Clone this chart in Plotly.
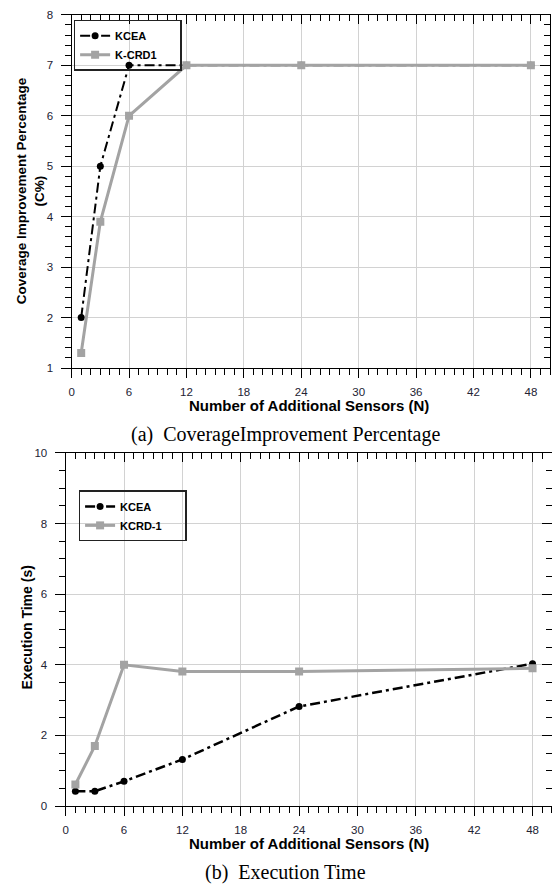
import plotly.graph_objects as go

# ---- data ----
n_sensors = [1, 3, 6, 12, 24, 48]
cov_kcea = [2.0, 5.0, 7.0, 7.0, 7.0, 7.0]
cov_kcrd1 = [1.3, 3.9, 6.0, 7.0, 7.0, 7.0]
time_kcea = [0.42, 0.42, 0.70, 1.32, 2.82, 4.03]
time_kcrd1 = [0.61, 1.70, 4.00, 3.81, 3.81, 3.90]
x_ticks = [0, 6, 12, 18, 24, 30, 36, 42, 48]

W, H = 552, 890
BLACK = "#000000"
GRAY = "#a3a3a3"
GRID = "#d2d2d2"
TICKFONT = dict(family="Liberation Sans, Arial", size=11.5, color="#222233")
DASH = "10px,4px,3px,4px"
PAD = "\u00a0" * 6

def px(xpx):
    return xpx / W

def py(ypx):
    return 1 - ypx / H

fig = go.Figure()

# top chart
fig.add_trace(go.Scatter(x=n_sensors, y=cov_kcea, name="<b>KCEA</b>" + PAD, mode="lines+markers",
                         line=dict(color=BLACK, width=2, dash=DASH),
                         marker=dict(symbol="circle", size=7, color=BLACK),
                         xaxis="x", yaxis="y", legend="legend"))
fig.add_trace(go.Scatter(x=n_sensors, y=cov_kcrd1, name="<b>K-CRD1</b>" + PAD, mode="lines+markers",
                         line=dict(color=GRAY, width=3),
                         marker=dict(symbol="square", size=8, color=GRAY),
                         xaxis="x", yaxis="y", legend="legend"))
# bottom chart
fig.add_trace(go.Scatter(x=n_sensors, y=time_kcea, name="<b>KCEA</b>" + PAD, mode="lines+markers",
                         line=dict(color=BLACK, width=2.5, dash=DASH),
                         marker=dict(symbol="circle", size=7, color=BLACK),
                         xaxis="x2", yaxis="y2", legend="legend2"))
fig.add_trace(go.Scatter(x=n_sensors, y=time_kcrd1, name="<b>KCRD-1</b>" + PAD, mode="lines+markers",
                         line=dict(color=GRAY, width=3),
                         marker=dict(symbol="square", size=8, color=GRAY),
                         xaxis="x2", yaxis="y2", legend="legend2"))
# invisible traces for mirror axes (inside ticks on top/right)
fig.add_trace(go.Scatter(x=[None], y=[None], xaxis="x3", yaxis="y3", showlegend=False))
fig.add_trace(go.Scatter(x=[None], y=[None], xaxis="x4", yaxis="y4", showlegend=False))

top_xdom = [px(69), px(550)]
top_ydom = [py(367), py(9)]
bot_xdom = [px(63), 1.0]
bot_ydom = [py(811), py(453)]

def xax(domain, anchor, side="bottom", ticks="outside", labels=True, grid=True, overlay=None):
    d = dict(domain=domain, anchor=anchor, range=[0, 50], tickmode="array", tickvals=x_ticks,
             ticks=ticks, ticklen=9, tickwidth=1.2, tickcolor=BLACK,
             minor=dict(dtick=1, tick0=0, ticks=ticks, ticklen=6, tickcolor=BLACK, tickwidth=1, showgrid=False),
             showline=True, linecolor=BLACK, linewidth=1.2, showgrid=grid, gridcolor=GRID, gridwidth=1,
             zeroline=False, showticklabels=labels, tickfont=TICKFONT, side=side, fixedrange=True)
    if labels:
        d["ticklabelstandoff"] = 4
    if overlay:
        d["overlaying"] = overlay
    return d

def yax(domain, anchor, rng, dtick, mdtick, side="left", ticks="outside", labels=True, grid=True, overlay=None):
    d = dict(domain=domain, anchor=anchor, range=rng, tick0=0, dtick=dtick,
             ticks=ticks, ticklen=10, tickwidth=1.2, tickcolor=BLACK,
             minor=dict(dtick=mdtick, tick0=0, ticks=ticks, ticklen=6, tickcolor=BLACK, tickwidth=1, showgrid=False),
             showline=True, linecolor=BLACK, linewidth=1.2, showgrid=grid, gridcolor=GRID, gridwidth=1,
             zeroline=False, showticklabels=labels, tickfont=TICKFONT, side=side, fixedrange=True)
    if labels:
        d["ticklabelstandoff"] = 5
    if overlay:
        d["overlaying"] = overlay
    return d

legend_common = dict(bgcolor="rgba(255,255,255,0)", bordercolor="#222222", borderwidth=1.5,
                     font=dict(family="Liberation Sans, Arial", size=11, color=BLACK),
                     xanchor="left", yanchor="top", tracegroupgap=0, itemwidth=30)

fig.update_layout(
    width=W, height=H, margin=dict(l=0, r=0, t=0, b=0),
    paper_bgcolor="white", plot_bgcolor="white",
    xaxis=xax(top_xdom, "y"),
    yaxis=yax(top_ydom, "x", [1, 8], 1, 0.2),
    xaxis2=xax(bot_xdom, "y2"),
    yaxis2=yax(bot_ydom, "x2", [0, 10], 2, 0.5),
    xaxis3=xax(top_xdom, "y", side="top", ticks="inside", labels=False, grid=False, overlay="x"),
    yaxis3=yax(top_ydom, "x", [1, 8], 1, 0.2, side="right", ticks="inside", labels=False, grid=False, overlay="y"),
    xaxis4=xax(bot_xdom, "y2", side="top", ticks="inside", labels=False, grid=False, overlay="x2"),
    yaxis4=yax(bot_ydom, "x2", [0, 10], 2, 0.5, side="right", ticks="inside", labels=False, grid=False, overlay="y2"),
    legend=dict(x=px(71), y=py(14), **legend_common),
    legend2=dict(x=px(76), y=py(491), **legend_common),
    showlegend=True,
)

TITLEFONT = dict(family="Liberation Sans, Arial", size=15, color=BLACK)
CAPFONT = dict(family="Liberation Serif, Times New Roman", size=20, color=BLACK)
ann = [
    dict(text="<b>Number of Additional Sensors (N)</b>", x=px(308), y=py(405), font=TITLEFONT),
    dict(text="<b>Number of Additional Sensors (N)</b>", x=px(308), y=py(849), font=TITLEFONT),
    dict(text="<b>Coverage Improvement Percentage<br>(C%)</b>", x=px(28), y=py(187), textangle=-90,
         font=dict(family="Liberation Sans, Arial", size=13.5, color=BLACK)),
    dict(text="<b>Execution Time (s)</b>", x=px(24), y=py(630), textangle=-90,
         font=dict(family="Liberation Sans, Arial", size=14, color=BLACK)),
    dict(text="(a)\u00a0\u00a0CoverageImprovement Percentage", x=px(284), y=py(434), font=CAPFONT),
    dict(text="(b)\u00a0\u00a0Execution Time", x=px(284), y=py(878), font=CAPFONT),
]
for a in ann:
    fig.add_annotation(xref="paper", yref="paper", showarrow=False, xanchor="center", yanchor="middle", **a)

fig.write_html("out.html")
